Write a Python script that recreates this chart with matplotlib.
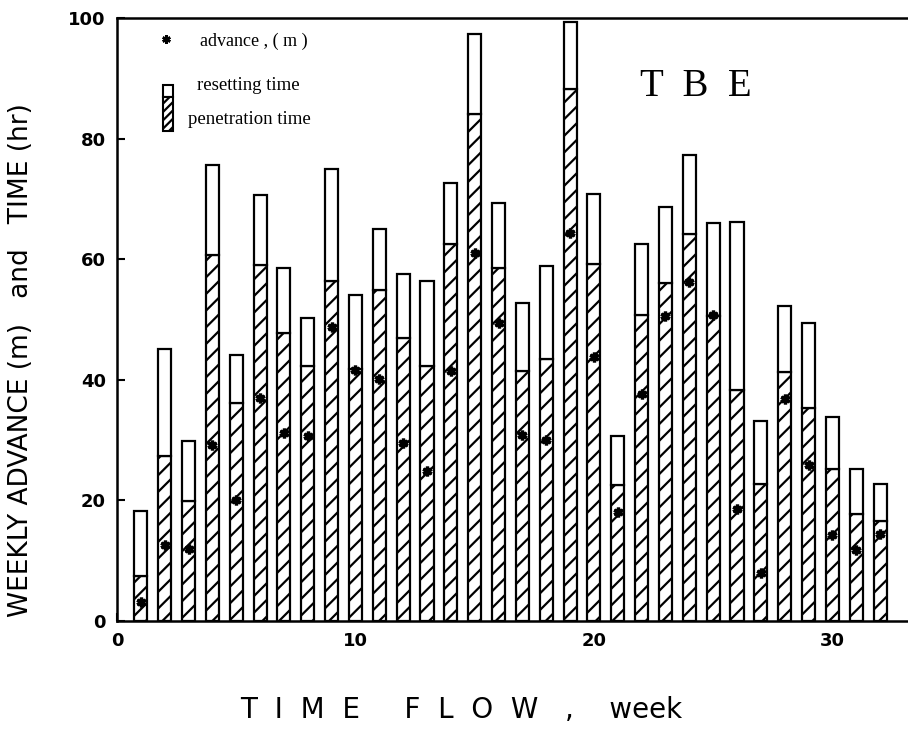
import matplotlib
matplotlib.use("Agg")
import matplotlib.pyplot as plt
from matplotlib.patches import Rectangle
import numpy as np

weeks = list(range(1, 33))
total_time = [18.3, 45.1, 29.9, 75.7, 44.1, 70.6, 58.5, 50.2, 75.0, 54.1,
              65.0, 57.5, 56.4, 72.6, 97.3, 69.3, 52.8, 58.8, 99.3, 70.8,
              30.7, 62.6, 68.7, 77.3, 66.0, 66.2, 33.2, 52.3, 49.4, 33.8,
              25.2, 22.7]
penetration_time = [7.5, 27.4, 19.9, 60.7, 36.1, 59.0, 47.7, 42.3, 56.4, 41.8,
                    54.9, 46.9, 42.3, 62.6, 84.0, 58.6, 41.5, 43.4, 88.2, 59.2,
                    22.6, 50.7, 56.1, 64.1, 50.5, 38.3, 22.7, 41.3, 35.3, 25.2,
                    17.7, 16.6]
advance = [3.2, 12.6, 12.0, 29.2, 20.1, 36.9, 31.1, 30.6, 48.8, 41.6,
           40.2, 29.5, 24.8, 41.5, 61.0, 49.5, 30.8, 30.0, 64.3, 43.7,
           18.1, 37.6, 50.5, 56.3, 50.7, 18.5, 7.9, 36.8, 25.9, 14.3,
           11.8, 14.5]
resetting_time = [t - p for t, p in zip(total_time, penetration_time)]

yticks = [0, 20, 40, 60, 80, 100]
xticks = [0, 10, 20, 30]

plt.rcParams['hatch.linewidth'] = 1.6
plt.rcParams['hatch.color'] = 'black'

W, H = 908, 731
fig = plt.figure(figsize=(W / 100, H / 100), dpi=100)
ax = fig.add_axes([117 / W, 110 / H, (908 - 117) / W, (621 - 18) / H])

label_font = ['DejaVu Sans']

ax.bar(weeks, penetration_time, width=0.55, color='white', edgecolor='black',
       linewidth=1.6, hatch='//', zorder=2)
ax.bar(weeks, resetting_time, width=0.55, bottom=penetration_time, color='white',
       edgecolor='black', linewidth=1.6, zorder=2)
ax.plot(weeks, advance, linestyle='none', marker=(6, 2, 0), markersize=7,
        markeredgewidth=2.4, color='black', zorder=3)

ax.set_xlim(0.2, 33.17)
ax.set_ylim(0, 100)
ax.set_xticks(xticks)
ax.set_yticks(yticks)
ax.tick_params(direction='in', length=6, width=1.5, labelsize=13, pad=8)
for lab in ax.get_xticklabels() + ax.get_yticklabels():
    lab.set_fontweight('bold')
    lab.set_family(['DejaVu Sans'])
ax.spines['right'].set_visible(False)
for s in ['left', 'top', 'bottom']:
    ax.spines[s].set_linewidth(1.8)

fig.text(21 / W, 1 - 360 / H, 'WEEKLY ADVANCE (m)   and   TIME (hr)', rotation=90,
         ha='center', va='center', fontsize=19, family=label_font)
fig.text(461 / W, 1 - 710 / H, 'T  I  M  E     F  L  O  W   ,    week',
         ha='center', va='center', fontsize=20, family=label_font)

serif = ['Liberation Serif', 'DejaVu Serif']

def fx(px):
    return (px - 117) / (908 - 117)

def fy(py):
    return 1 - (py - 18) / 603

ax.text(fx(640), fy(87), 'T  B  E', transform=ax.transAxes, ha='left',
        va='center', fontsize=28, family=serif)

ax.plot([fx(166)], [fy(39)], transform=ax.transAxes, marker=(6, 2, 0),
        markersize=6, markeredgewidth=1.8, color='black', linestyle='none')
ax.text(fx(200), fy(41), 'advance , ( m )', transform=ax.transAxes,
        ha='left', va='center', fontsize=13, family=serif)
ax.text(fx(197), fy(86), 'resetting time', transform=ax.transAxes,
        ha='left', va='center', fontsize=13.5, family=serif)
ax.text(fx(188), fy(120), 'penetration time', transform=ax.transAxes,
        ha='left', va='center', fontsize=13.5, family=serif)
ax.add_patch(Rectangle((fx(163), fy(97)), fx(173) - fx(163), fy(85) - fy(97),
                       transform=ax.transAxes, facecolor='white',
                       edgecolor='black', linewidth=1.5, zorder=4))
ax.add_patch(Rectangle((fx(163), fy(131)), fx(173) - fx(163), fy(97) - fy(131),
                       transform=ax.transAxes, facecolor='white', hatch='////',
                       edgecolor='black', linewidth=1.5, zorder=4))

fig.savefig('out.png', dpi=100)
